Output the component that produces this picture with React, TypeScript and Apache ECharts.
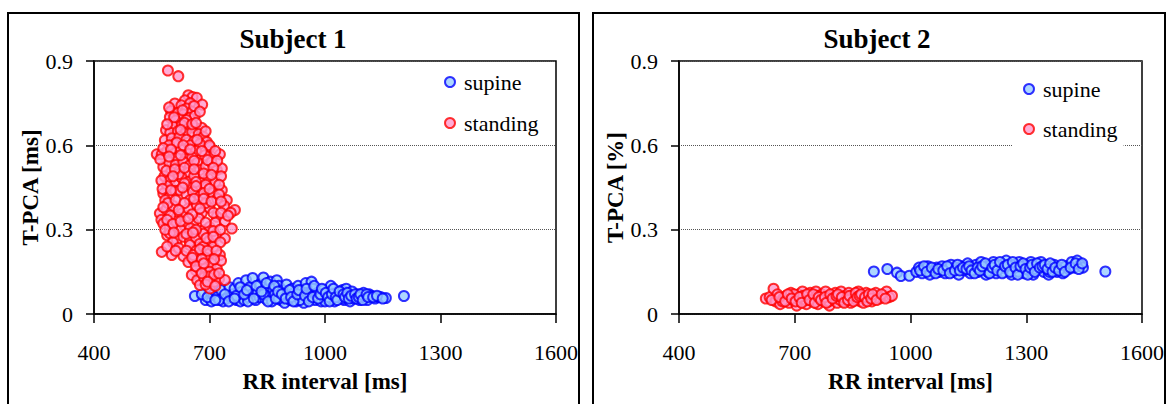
import React, { useEffect, useRef } from "react";
import * as echarts from "echarts";

const xTicks = [400, 700, 1000, 1300, 1600];
const yTicks = [0, 0.3, 0.6, 0.9];
const titles = ["Subject 1", "Subject 2"];
const yNames = ["T-PCA [ms]", "T-PCA [%]"];
const xName = "RR interval [ms]";
const seriesNames = ["supine", "standing"];

// Subject 1, standing: [RR interval ms, T-PCA]
const s1Standing: number[][] = [
  [592, 0.866], [619, 0.846],
  [645, 0.778], [656, 0.772], [667, 0.769], [636, 0.76], [681, 0.745], [610, 0.749], [627, 0.742], [650, 0.75],
  [641, 0.731], [600, 0.722], [618, 0.715], [632, 0.71], [655, 0.72], [597, 0.7], [623, 0.695], [648, 0.698], [612, 0.688], [662, 0.705], [640, 0.69],
  [587, 0.654], [605, 0.668], [628, 0.672], [645, 0.66], [662, 0.662], [680, 0.662], [598, 0.645], [618, 0.65], [636, 0.642], [655, 0.648], [672, 0.64],
  [584, 0.618], [602, 0.625], [622, 0.63], [640, 0.62], [660, 0.615], [684, 0.63], [693, 0.612], [610, 0.605], [650, 0.6], [675, 0.605],
  [563, 0.568], [576, 0.568], [590, 0.58], [606, 0.575], [625, 0.585], [645, 0.57], [665, 0.58], [701, 0.594], [706, 0.559], [727, 0.568], [615, 0.555], [638, 0.552], [688, 0.565], [655, 0.558],
  [580, 0.523], [595, 0.54], [612, 0.53], [632, 0.541], [649, 0.529], [668, 0.538], [675, 0.512], [690, 0.525], [719, 0.512], [732, 0.518], [600, 0.505], [622, 0.51], [645, 0.503], [705, 0.54],
  [583, 0.49], [597, 0.476], [610, 0.462], [628, 0.485], [645, 0.47], [660, 0.49], [680, 0.468], [697, 0.482], [715, 0.47], [590, 0.455], [652, 0.45], [730, 0.49], [620, 0.498],
  [580, 0.429], [595, 0.415], [611, 0.438], [623, 0.44], [640, 0.425], [657, 0.435], [675, 0.418], [692, 0.452], [708, 0.43], [732, 0.44], [745, 0.405], [585, 0.405], [649, 0.405], [720, 0.41],
  [571, 0.358], [588, 0.372], [605, 0.385], [628, 0.358], [645, 0.375], [667, 0.388], [680, 0.36], [700, 0.378], [719, 0.346], [738, 0.385], [766, 0.37], [615, 0.345], [690, 0.395], [755, 0.36],
  [575, 0.335], [580, 0.322], [597, 0.31], [612, 0.33], [635, 0.315], [658, 0.322], [672, 0.34], [684, 0.298], [700, 0.31], [715, 0.325], [740, 0.33], [758, 0.304], [625, 0.3], [650, 0.305],
  [590, 0.28], [597, 0.287], [615, 0.263], [632, 0.275], [649, 0.258], [665, 0.27], [684, 0.285], [700, 0.262], [718, 0.278], [740, 0.269], [605, 0.255], [675, 0.25],
  [576, 0.221], [602, 0.21], [620, 0.235], [632, 0.206], [649, 0.245], [666, 0.225], [684, 0.239], [700, 0.215], [710, 0.239], [727, 0.21], [690, 0.2],
  [645, 0.185], [660, 0.19], [675, 0.174], [690, 0.165], [705, 0.18], [719, 0.162], [730, 0.19], [665, 0.155], [700, 0.15],
  [654, 0.139], [668, 0.12], [675, 0.103], [686, 0.13], [697, 0.133], [701, 0.091], [712, 0.115], [725, 0.125], [740, 0.121], [690, 0.105],
  [595, 0.735], [630, 0.725], [660, 0.74], [675, 0.72], [608, 0.7], [635, 0.68], [655, 0.675], [590, 0.675], [625, 0.655], [665, 0.68], [690, 0.65],
  [595, 0.6], [615, 0.61], [632, 0.6], [668, 0.62], [700, 0.6], [580, 0.59], [600, 0.585], [650, 0.585], [680, 0.58], [715, 0.58],
  [572, 0.55], [595, 0.56], [625, 0.565], [660, 0.545], [695, 0.548], [720, 0.545], [588, 0.51], [610, 0.515], [635, 0.52], [660, 0.515], [685, 0.5], [710, 0.52],
  [575, 0.475], [605, 0.49], [635, 0.465], [665, 0.47], [690, 0.46], [705, 0.495], [725, 0.46], [578, 0.445], [600, 0.44], [630, 0.45], [665, 0.455], [685, 0.43], [700, 0.445], [725, 0.425],
  [592, 0.395], [612, 0.405], [635, 0.395], [660, 0.41], [685, 0.41], [705, 0.4], [730, 0.4], [580, 0.38], [598, 0.35], [620, 0.37], [655, 0.355], [675, 0.375], [710, 0.36], [730, 0.36], [748, 0.35],
  [590, 0.335], [605, 0.32], [625, 0.33], [645, 0.34], [665, 0.3], [690, 0.325], [710, 0.295], [728, 0.3], [585, 0.3], [607, 0.29], [640, 0.285], [657, 0.29], [692, 0.27], [710, 0.275], [728, 0.255],
  [590, 0.24], [612, 0.225], [640, 0.225], [658, 0.21], [675, 0.23], [695, 0.225], [718, 0.225], [655, 0.2], [680, 0.195], [712, 0.195],
  [665, 0.17], [685, 0.18], [712, 0.14], [680, 0.145], [695, 0.115], [725, 0.145], [715, 0.1],
];

// Subject 1, supine
const s1Supine: number[][] = [
  [662, 0.064], [690, 0.05], [700, 0.08], [705, 0.045], [710, 0.07], [720, 0.06], [730, 0.085], [735, 0.045], [745, 0.055], [752, 0.095],
  [755, 0.06], [760, 0.07], [765, 0.09], [770, 0.05], [775, 0.11], [780, 0.045], [785, 0.08], [790, 0.05], [795, 0.12], [800, 0.06],
  [805, 0.095], [810, 0.07], [812, 0.128], [820, 0.05], [825, 0.075], [830, 0.06], [832, 0.105], [840, 0.13], [845, 0.055], [850, 0.09],
  [855, 0.065], [858, 0.115], [862, 0.045], [865, 0.09], [870, 0.07], [875, 0.12], [880, 0.1], [885, 0.05], [890, 0.085], [892, 0.06],
  [895, 0.04], [900, 0.105], [902, 0.07], [905, 0.065], [910, 0.05], [915, 0.09], [920, 0.075], [922, 0.055], [925, 0.045], [930, 0.1],
  [935, 0.06], [940, 0.085], [942, 0.06], [945, 0.04], [950, 0.11], [955, 0.07], [960, 0.055], [962, 0.07], [965, 0.115], [970, 0.09],
  [975, 0.05], [977, 0.065], [980, 0.075], [985, 0.06], [990, 0.045], [995, 0.085], [1000, 0.065], [1005, 0.05], [1010, 0.08], [1015, 0.1],
  [1020, 0.055], [1025, 0.045], [1030, 0.075], [1035, 0.06], [1040, 0.06], [1045, 0.085], [1050, 0.05], [1055, 0.09], [1060, 0.065], [1065, 0.045],
  [1070, 0.08], [1075, 0.055], [1080, 0.065], [1085, 0.07], [1090, 0.05], [1095, 0.06], [1100, 0.075], [1105, 0.06], [1110, 0.05], [1115, 0.07],
  [1120, 0.065], [1130, 0.055], [1138, 0.06], [1145, 0.06], [1158, 0.057], [1205, 0.064],
  [725, 0.05], [770, 0.065], [800, 0.045], [840, 0.07], [880, 0.055], [935, 0.05], [1000, 0.045], [1045, 0.055],
  [680, 0.07], [695, 0.06], [715, 0.05], [740, 0.07], [750, 0.045], [765, 0.055], [780, 0.095], [790, 0.07], [797, 0.085], [815, 0.055],
  [822, 0.1], [835, 0.08], [848, 0.11], [852, 0.045], [868, 0.1], [872, 0.055], [878, 0.08], [888, 0.07], [898, 0.055], [908, 0.085],
  [912, 0.06], [918, 0.045], [928, 0.07], [932, 0.085], [948, 0.065], [952, 0.09], [958, 0.045], [968, 0.06], [972, 0.1], [982, 0.055],
  [988, 0.07], [992, 0.09], [1002, 0.075], [1008, 0.06], [1012, 0.045], [1018, 0.07], [1022, 0.09], [1028, 0.06], [1032, 0.05], [1038, 0.08],
  [1048, 0.07], [1052, 0.06], [1058, 0.075], [1062, 0.055], [1068, 0.065], [1078, 0.07], [1082, 0.055], [1088, 0.06], [1092, 0.07], [1098, 0.05],
  [1108, 0.07], [1112, 0.06], [1125, 0.06], [1135, 0.065], [1150, 0.055],
];

// Subject 2, standing
const s2Standing: number[][] = [
  [625, 0.055], [635, 0.06], [645, 0.09], [650, 0.045], [655, 0.07], [662, 0.035], [670, 0.055], [678, 0.065], [685, 0.04], [690, 0.075],
  [695, 0.05], [700, 0.06], [705, 0.03], [710, 0.07], [715, 0.045], [720, 0.08], [725, 0.055], [730, 0.035], [735, 0.065], [740, 0.075],
  [745, 0.045], [750, 0.06], [755, 0.08], [760, 0.035], [765, 0.055], [770, 0.07], [775, 0.045], [780, 0.08], [785, 0.06], [790, 0.03],
  [795, 0.065], [800, 0.05], [805, 0.075], [810, 0.04], [815, 0.06], [820, 0.08], [825, 0.045], [830, 0.065], [835, 0.055], [840, 0.075],
  [845, 0.04], [850, 0.06], [855, 0.07], [860, 0.05], [865, 0.08], [870, 0.045], [875, 0.065], [880, 0.055], [885, 0.075], [890, 0.05],
  [895, 0.065], [900, 0.045], [905, 0.06], [910, 0.075], [920, 0.055], [930, 0.065], [938, 0.08], [945, 0.06], [952, 0.065],
  [668, 0.045], [698, 0.07], [728, 0.05], [758, 0.065], [788, 0.045], [818, 0.05], [848, 0.065], [878, 0.04], [908, 0.055], [722, 0.065],
  [640, 0.05], [660, 0.06], [675, 0.045], [682, 0.07], [692, 0.055], [702, 0.045], [712, 0.06], [718, 0.04], [732, 0.07], [738, 0.05],
  [748, 0.07], [752, 0.04], [762, 0.06], [768, 0.05], [778, 0.06], [782, 0.04], [792, 0.07], [798, 0.055], [808, 0.065], [812, 0.07],
  [822, 0.06], [828, 0.04], [838, 0.05], [842, 0.065], [852, 0.045], [858, 0.075], [862, 0.06], [868, 0.065], [872, 0.07], [882, 0.06],
  [888, 0.045], [892, 0.07], [898, 0.055], [902, 0.07], [912, 0.05], [925, 0.07], [935, 0.055],
];

// Subject 2, supine
const s2Supine: number[][] = [
  [905, 0.151], [940, 0.16], [965, 0.147], [975, 0.135], [997, 0.136], [1015, 0.15], [1022, 0.165], [1030, 0.145], [1038, 0.16], [1045, 0.17],
  [1050, 0.14], [1060, 0.155], [1068, 0.165], [1075, 0.15], [1082, 0.17], [1090, 0.145], [1098, 0.16], [1105, 0.175], [1110, 0.15], [1118, 0.165],
  [1125, 0.14], [1132, 0.17], [1140, 0.155], [1148, 0.18], [1155, 0.145], [1162, 0.165], [1170, 0.175], [1176, 0.15], [1183, 0.185], [1190, 0.16],
  [1196, 0.14], [1202, 0.17], [1208, 0.155], [1215, 0.185], [1222, 0.145], [1228, 0.165], [1235, 0.175], [1242, 0.15], [1248, 0.19], [1255, 0.16],
  [1262, 0.14], [1268, 0.175], [1275, 0.155], [1282, 0.185], [1288, 0.165], [1295, 0.145], [1300, 0.175], [1306, 0.155], [1312, 0.185], [1318, 0.14],
  [1325, 0.17], [1332, 0.16], [1338, 0.185], [1345, 0.15], [1352, 0.17], [1358, 0.14], [1365, 0.16], [1372, 0.175], [1380, 0.15], [1388, 0.165],
  [1395, 0.145], [1402, 0.17], [1410, 0.16], [1418, 0.185], [1425, 0.165], [1432, 0.19], [1440, 0.175], [1447, 0.165], [1505, 0.151],
  [1160, 0.16], [1200, 0.15], [1240, 0.165], [1280, 0.15], [1320, 0.16], [1360, 0.15],
  [1025, 0.155], [1035, 0.17], [1042, 0.15], [1055, 0.165], [1065, 0.145], [1072, 0.16], [1085, 0.155], [1095, 0.17], [1102, 0.145], [1115, 0.155],
  [1122, 0.175], [1128, 0.155], [1136, 0.165], [1145, 0.16], [1152, 0.17], [1158, 0.155], [1166, 0.145], [1174, 0.165], [1180, 0.155], [1186, 0.17],
  [1194, 0.18], [1205, 0.145], [1212, 0.165], [1218, 0.175], [1225, 0.155], [1232, 0.185], [1238, 0.145], [1245, 0.17], [1252, 0.175], [1258, 0.15],
  [1265, 0.185], [1272, 0.165], [1278, 0.14], [1285, 0.17], [1292, 0.18], [1298, 0.16], [1304, 0.14], [1310, 0.165], [1315, 0.175], [1322, 0.15],
  [1328, 0.18], [1335, 0.165], [1342, 0.17], [1348, 0.175], [1355, 0.16], [1362, 0.18], [1368, 0.15], [1375, 0.165], [1385, 0.155], [1392, 0.175],
  [1400, 0.15], [1415, 0.165], [1428, 0.18], [1436, 0.16], [1445, 0.18],
];

const FONT = '"Liberation Serif", "Times New Roman", serif';
const SUPINE = { color: "#99ccff", borderColor: "#0000ff", borderWidth: 2 };
const STANDING = { color: "#ff99cc", borderColor: "#ff0000", borderWidth: 2 };

export default function App() {
  const ref = useRef<HTMLDivElement>(null);
  useEffect(() => {
    const chart = echarts.init(ref.current!, null, { renderer: "svg" });
    const grids = [
      { left: 94, top: 61, width: 462, height: 253 },
      { left: 679, top: 61, width: 464, height: 253 },
    ];
    const xAxes = grids.map((_, i) => ({
      type: "value",
      gridIndex: i,
      min: xTicks[0],
      max: xTicks[xTicks.length - 1],
      axisLine: { show: true, onZero: false, lineStyle: { color: "#000", width: 1.5 } },
      axisTick: { show: true, customValues: xTicks, length: 9, lineStyle: { color: "#000", width: 1.5 } },
      axisLabel: {
        customValues: xTicks,
        margin: 27,
        fontSize: 22,
        color: "#000",
        fontFamily: FONT,
        formatter: (v: number) => String(v),
      },
      splitLine: { show: false },
      name: xName,
      nameLocation: "middle",
      nameGap: 56,
      nameTextStyle: { fontSize: 23, fontWeight: "bold", color: "#000", fontFamily: FONT },
    }));
    const yAxes = grids.map((_, i) => ({
      type: "value",
      gridIndex: i,
      min: yTicks[0],
      max: yTicks[yTicks.length - 1],
      interval: yTicks[1] - yTicks[0],
      axisLine: { show: true, lineStyle: { color: "#000", width: 1.5 } },
      axisTick: { show: true, length: 8, lineStyle: { color: "#000", width: 1.5 } },
      axisLabel: {
        margin: 21,
        fontSize: 22,
        color: "#000",
        fontFamily: FONT,
        formatter: (v: number) => (v === 0 ? "0" : v.toFixed(1)),
      },
      splitLine: { show: true, lineStyle: { type: "dotted", color: "#555", width: 1 } },
      name: yNames[i],
      nameLocation: "middle",
      nameRotate: 90,
      nameGap: 52,
      nameTextStyle: { fontSize: 23, fontWeight: "bold", color: "#000", fontFamily: FONT },
    }));
    const mk = (name: string, data: number[][], i: number, style: any) => ({
      name,
      type: "scatter",
      xAxisIndex: i,
      yAxisIndex: i,
      data,
      symbol: "circle",
      symbolSize: 10,
      itemStyle: style,
      emphasis: { disabled: true },
    });
    const legendBase = {
      orient: "vertical",
      icon: "circle",
      itemWidth: 10,
      itemHeight: 10,
      backgroundColor: "#fff",
      padding: [6, 6, 6, 10],
      data: seriesNames,
      textStyle: { fontSize: 22, lineHeight: 24, color: "#000", fontFamily: FONT, padding: [0, 0, 0, 4] },
    };
    chart.setOption({
      animation: false,
      backgroundColor: "#fff",
      grid: grids.map((g) => ({ ...g, show: true, borderColor: "#000", borderWidth: 1.5, backgroundColor: "transparent" })),
      xAxis: xAxes,
      yAxis: yAxes,
      legend: [
        { ...legendBase, left: 434, top: 64, itemGap: 17 },
        { ...legendBase, left: 1013, top: 71, itemGap: 16 },
      ],
      graphic: [
        { type: "rect", shape: { x: 8, y: 13, width: 571, height: 400 }, style: { fill: "none", stroke: "#000", lineWidth: 2 }, silent: true },
        { type: "rect", shape: { x: 593, y: 13, width: 572, height: 400 }, style: { fill: "none", stroke: "#000", lineWidth: 2 }, silent: true },
        {
          type: "text", x: 293, y: 39, silent: true,
          style: { text: titles[0], align: "center", verticalAlign: "middle", fontSize: 27, fontWeight: "bold", fontFamily: FONT, fill: "#000" },
        },
        {
          type: "text", x: 877, y: 39, silent: true,
          style: { text: titles[1], align: "center", verticalAlign: "middle", fontSize: 27, fontWeight: "bold", fontFamily: FONT, fill: "#000" },
        },
      ],
      series: [
        mk(seriesNames[0], s1Supine, 0, SUPINE),
        mk(seriesNames[1], s1Standing, 0, STANDING),
        mk(seriesNames[0], s2Supine, 1, SUPINE),
        mk(seriesNames[1], s2Standing, 1, STANDING),
      ],
    });
    return () => chart.dispose();
  }, []);
  return (
    <div
      ref={ref}
      style={{ position: "absolute", left: 0, top: 0, width: 1167, height: 404, background: "#fff" }}
    />
  );
}
